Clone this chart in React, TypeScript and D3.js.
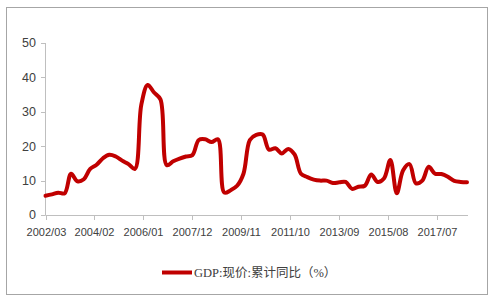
import React from "react";
import * as d3 from "d3";

// Quarterly observations starting 2002/03 (index 0 = 2002/03, one step = 3 months)
const startYear = 2002;
const startMonth = 3;
const gdpValues: number[] = [
  5.6, 6.0, 6.5, 6.3, 12.0, 9.8, 10.4, 13.4, 14.6, 16.5, 17.5, 17.0, 15.8, 14.8, 13.4,
  32.0, 37.8, 35.6, 33.6, 14.5, 15.6, 16.4, 17.0, 17.4, 21.8, 22.0, 21.2, 22.0, 6.5,
  7.2, 8.5, 12.0, 21.8, 23.3, 23.4, 19.0, 19.4, 17.9, 19.2, 17.6, 12.0, 11.0, 10.3,
  10.0, 10.0, 9.3, 9.5, 9.6, 7.6, 8.2, 8.5, 11.8, 9.6, 10.6, 16.0, 6.3, 13.0, 14.8,
  9.2, 10.0, 14.0, 12.0, 11.9, 11.1, 9.9, 9.6, 9.5,
];
const tickLabels: string[] = [
  "2002/03", "2004/02", "2006/01", "2007/12", "2009/11", "2011/10", "2013/09", "2015/08", "2017/07",
];
const yTicks: number[] = [0, 10, 20, 30, 40, 50];
const seriesName = "GDP:现价:累计同比（%）";

function monthIndex(label: string): number {
  const [y, m] = label.split("/").map(Number);
  return (y - startYear) * 12 + (m - startMonth);
}

export default function App() {
  const W = 497;
  const H = 302;
  const points = gdpValues.map((v, i) => ({ m: i * 3, v }));
  const x = d3.scaleLinear().domain([0, 198]).range([45.5, 467]);
  const y = d3.scaleLinear().domain([0, 50]).range([215, 43]);
  const line = d3
    .line<{ m: number; v: number }>()
    .x((d) => x(d.m))
    .y((d) => y(d.v))
    .curve(d3.curveCatmullRom.alpha(0.5));
  const axisColor = "#bfbfbf";
  const textColor = "#404040";
  const font = "'Liberation Sans', Arial, sans-serif";
  return (
    <svg
      width={W}
      height={H}
      style={{ position: "absolute", left: 0, top: 0, background: "#fff" }}
    >
      <rect x={6.5} y={7.5} width={481} height={287} fill="#fff" stroke="#a6a6a6" strokeWidth={1} />
      {/* y axis */}
      <line x1={45.5} x2={45.5} y1={y(50)} y2={y(0)} stroke={axisColor} />
      {yTicks.map((t) => (
        <g key={t}>
          <line x1={41} x2={45.5} y1={Math.round(y(t)) + 0.5} y2={Math.round(y(t)) + 0.5} stroke={axisColor} />
          <text
            x={36}
            y={y(t)}
            dy="0.35em"
            textAnchor="end"
            fontSize={12.5}
            fontFamily={font}
            fill={textColor}
          >
            {t}
          </text>
        </g>
      ))}
      {/* x axis */}
      <line x1={45.5} x2={468} y1={215.5} y2={215.5} stroke={axisColor} />
      {tickLabels.map((lab) => {
        const xi = Math.round(x(monthIndex(lab))) + 0.5;
        return (
          <g key={lab}>
            <line x1={xi} x2={xi} y1={215.5} y2={220} stroke={axisColor} />
            <text
              x={xi}
              y={236}
              textAnchor="middle"
              fontSize={11}
              fontFamily={font}
              fill={textColor}
            >
              {lab}
            </text>
          </g>
        );
      })}
      {/* series */}
      <path d={line(points) || ""} fill="none" stroke="#c00000" strokeWidth={4} strokeLinejoin="round" strokeLinecap="round" />
      {/* legend */}
      <line x1={162} x2={192} y1={272.5} y2={272.5} stroke="#c00000" strokeWidth={4} />
      <text
        x={194}
        y={277}
        fontSize={12.5}
        fontFamily="'Liberation Serif', 'Noto Sans CJK SC', serif"
        fill={textColor}
      >
        {seriesName}
      </text>
    </svg>
  );
}
